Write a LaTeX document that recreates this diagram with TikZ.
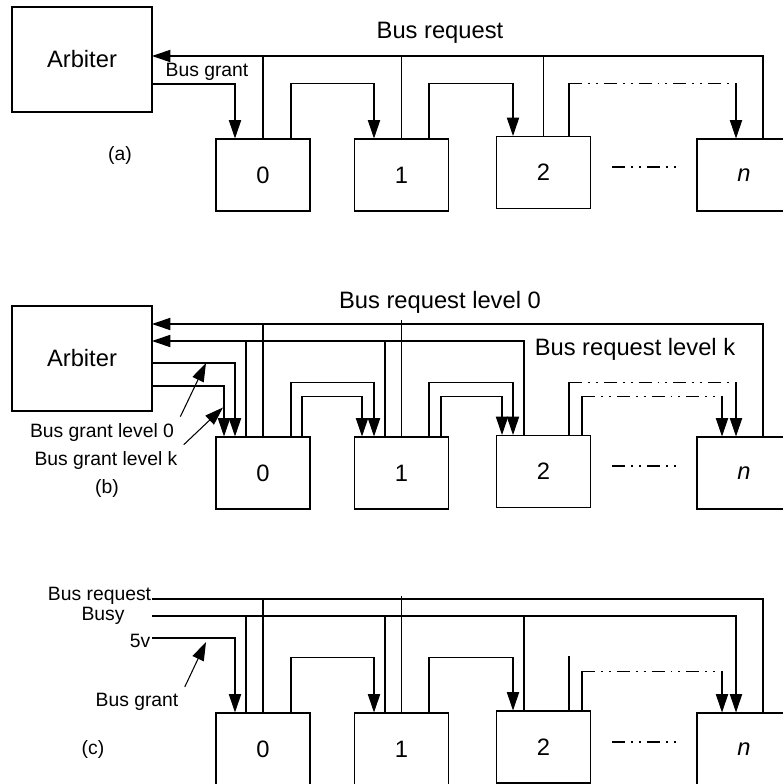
\documentclass[tikz,border=0pt]{standalone}
\usepackage{fontspec}
\setmainfont{Liberation Sans}
\usetikzlibrary{arrows.meta,calc}

\tikzset{
  big/.style={font=\fontsize{13.5}{16}\selectfont},
  small/.style={font=\fontsize{11}{13}\selectfont},
  arbbox/.style={draw, minimum width=2.8cm, minimum height=2.1cm, big},
  unitbox/.style={draw, minimum width=1.88cm, minimum height=1.44cm, big},
  arr/.style={-{Triangle[length=10.5pt,width=7pt]}},
  dd/.style={dash pattern=on 7.4pt off 3.4pt on 1.1pt off 3.4pt on 1.1pt off 3.4pt},
}

\begin{document}
\begin{tikzpicture}[x=0.02cm, y=-0.02cm, line width=0.6pt]
    \useasboundingbox (0,0) rectangle (783,784);
    \clip (0,0) rectangle (783,784);

    % (a) daisy chain, one level
    \node[arbbox] (arbA) at (82,59.5) {Arbiter};
    \node[unitbox] (a0) at (263,175) {0};
    \node[unitbox] (a1) at (401.5,175) {1};
    \node[unitbox] (a2) at (543.5,172.5) {2};
    \node[unitbox] (an) at (744,175) {\textit{n}};
    \node[big] (lrqA) at (440,33) {Bus request};
    \node[small] (lgtA) at (207,72) {Bus grant};
    \node[small] (capA) at (120,155) {(a)};
    \coordinate (rqA) at (152,56);
    \coordinate (gtA) at (152,84);
    \draw[arr] ($(an.north)+(19,0)$) |- (rqA);
    \draw (a0.north) -- (a0.north |- rqA);
    \draw (a1.north) -- (a1.north |- rqA);
    \draw (a2.north) -- (a2.north |- rqA);
    \draw[arr] (gtA) -| ($(a0.north)+(-28,0)$);
    \draw[arr] ($(a0.north)+(28,0)$) -- ++(0,-55) -| ($(a1.north)+(-27.5,0)$);
    \draw[arr] ($(a1.north)+(27.5,0)$) -- ++(0,-55) -| ($(a2.north)+(-30.5,0)$);
    \coordinate (inA) at ($(an.north)+(-8,0)$);
    \draw ($(a2.north)+(25.5,0)$) -- ++(0,-52.5) coordinate (dA);
    \draw[dd] (dA) -- (dA -| inA);
    \draw[arr] (dA -| inA) -- (inA);
    \draw[dd] (612,167) -- (680,167);

    % (b) two levels
    \node[arbbox] (arbB) at (82,358.5) {Arbiter};
    \node[unitbox] (b0) at (263,473) {0};
    \node[unitbox] (b1) at (401.5,473) {1};
    \node[unitbox] (b2) at (543.5,471.5) {2};
    \node[unitbox] (bn) at (744,473) {\textit{n}};
    \node[big] (lrq0B) at (440,302) {Bus request level 0};
    \node[big] (lrqkB) at (635,349) {Bus request level k};
    \node[small] (lg0B) at (102,432) {Bus grant level 0};
    \node[small] (lgkB) at (106,460) {Bus grant level k};
    \node[small] (capB) at (107,488) {(b)};
    \coordinate (rq0B) at (152,324);
    \coordinate (rqkB) at (152,341);
    \coordinate (gt0B) at (152,363);
    \coordinate (gtkB) at (152,386);
    \draw[arr] ($(bn.north)+(19,0)$) |- (rq0B);
    \draw[arr] ($(b2.north)+(-19.5,0)$) |- (rqkB);
    \draw (b0.north) -- ++(0,-113);
    \draw ($(b0.north)+(-17,0)$) -- ++(0,-96);
    \draw (b1.north) -- ++(0,-116);
    \draw ($(b1.north)+(-16.5,0)$) -- ++(0,-96);
    \draw[arr] (gt0B) -| ($(b0.north)+(-28,0)$);
    \draw[arr] (gtkB) -| ($(b0.north)+(-39,0)$);
    \draw[arr] ($(b0.north)+(28,0)$) -- ++(0,-54) -| ($(b1.north)+(-27.5,0)$);
    \draw[arr] ($(b0.north)+(39,0)$) -- ++(0,-40) -| ($(b1.north)+(-39.5,0)$);
    \draw[arr] ($(b1.north)+(27.5,0)$) -- ++(0,-54) -| ($(b2.north)+(-30.5,0)$);
    \draw[arr] ($(b1.north)+(39.5,0)$) -- ++(0,-40) -| ($(b2.north)+(-41.5,0)$);
    \coordinate (in0B) at ($(bn.north)+(-8,0)$);
    \coordinate (inkB) at ($(bn.north)+(-22,0)$);
    \draw ($(b2.north)+(25.5,0)$) -- ++(0,-52.5) coordinate (d0B);
    \draw ($(b2.north)+(38.5,0)$) -- ++(0,-38.5) coordinate (dkB);
    \draw[dd] (d0B) -- (d0B -| in0B);
    \draw[dd] (dkB) -- (dkB -| inkB);
    \draw[arr] (d0B -| in0B) -- (in0B);
    \draw[arr] (dkB -| inkB) -- (inkB);
    \draw[arr] (lg0B.north east) -- ($(gt0B)+(54,0)$);
    \draw[arr] (lgkB.north east) -- ($(b0.north)+(-40,-29)$);
    \draw[dd] (612,466) -- (680,466);

    % (c) no arbiter
    \node[unitbox] (c0) at (263,749) {0};
    \node[unitbox] (c1) at (401.5,749) {1};
    \node[unitbox] (c2) at (543.5,747) {2};
    \node[unitbox] (cn) at (744,749) {\textit{n}};
    \node[small] (lrqC) at (99.5,596) {Bus request};
    \node[small] (lbsC) at (103,616) {Busy};
    \node[small] (l5vC) at (140,641) {5v};
    \node[small] (lgtC) at (137,702) {Bus grant};
    \node[small] (capC) at (93,749) {(c)};
    \coordinate (rqC) at (152,599);
    \coordinate (bsC) at (152,616);
    \coordinate (gtC) at (152,638);
    \draw ($(cn.north)+(19,0)$) |- (rqC);
    \draw[arr] (bsC) -| ($(cn.north)+(-8,0)$);
    \draw[arr] (gtC) -| ($(c0.north)+(-28,0)$);
    \draw (c0.north) -- ++(0,-114);
    \draw ($(c0.north)+(-17,0)$) -- ++(0,-97);
    \draw (c1.north) -- ++(0,-116);
    \draw ($(c1.north)+(-16.5,0)$) -- ++(0,-97);
    \draw ($(c2.north)+(-19.5,0)$) -- ++(0,-95);
    \draw[arr] ($(c0.north)+(28,0)$) -- ++(0,-55) -| ($(c1.north)+(-27.5,0)$);
    \draw[arr] ($(c1.north)+(27.5,0)$) -- ++(0,-55) -| ($(c2.north)+(-30.5,0)$);
    \draw ($(c2.north)+(25.5,0)$) -- ++(0,-54);
    \coordinate (inC) at ($(cn.north)+(-22,0)$);
    \draw ($(c2.north)+(38.5,0)$) -- ++(0,-39) coordinate (dC);
    \draw[dd] (dC) -- (dC -| inC);
    \draw[arr] (dC -| inC) -- (inC);
    \draw[arr] (lgtC.north east) -- ($(gtC)+(54,4)$);
    \draw[dd] (612,742) -- (680,742);
\end{tikzpicture}
\end{document}
